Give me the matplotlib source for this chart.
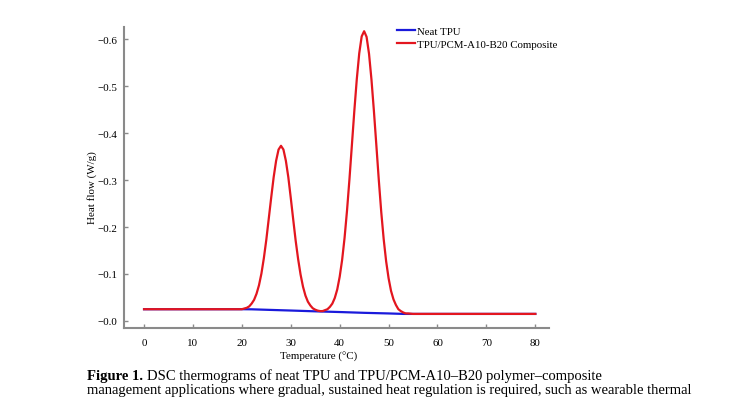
import matplotlib
matplotlib.use("Agg")
import matplotlib.pyplot as plt

plt.rcParams["font.family"] = ["Liberation Serif", "DejaVu Serif"]

# Neat TPU baseline (heat flow, W/g)
neat_temp = [0, 20, 22, 25, 30, 35, 40, 45, 50, 53, 80]
neat_flow = [-0.025, -0.025, -0.0248, -0.0238, -0.0222, -0.0205, -0.019, -0.0173, -0.016, -0.015, -0.015]

# TPU/PCM-A10-B20 composite curve
comp_temp = [0, 20, 21, 21.5, 22, 22.5, 23, 23.5, 24, 24.5, 25, 25.5, 26, 26.5, 27, 27.5,
             28, 28.5, 29, 29.5, 30, 30.5, 31, 31.5, 32, 32.5, 33, 33.5, 34, 34.5, 35,
             35.5, 36, 36.5, 37, 37.5, 38, 38.5, 39, 39.5, 40, 40.5, 41, 41.5, 42, 42.5,
             43, 43.5, 44, 44.5, 45, 45.5, 46, 46.5, 47, 47.5, 48, 48.5, 49, 49.5, 50,
             50.5, 51, 51.5, 52, 52.5, 53, 53.5, 54, 55, 80]
comp_flow = [-0.025, -0.025, -0.028, -0.031, -0.037, -0.045, -0.058, -0.076, -0.101, -0.134,
             -0.173, -0.218, -0.263, -0.306, -0.341, -0.365, -0.373, -0.365, -0.341, -0.306,
             -0.262, -0.216, -0.171, -0.132, -0.099, -0.073, -0.054, -0.041, -0.033, -0.027,
             -0.024, -0.022, -0.021, -0.021, -0.023, -0.025, -0.030, -0.037, -0.049, -0.067,
             -0.094, -0.130, -0.177, -0.235, -0.302, -0.375, -0.448, -0.515, -0.570, -0.606,
             -0.617, -0.605, -0.569, -0.514, -0.447, -0.374, -0.300, -0.232, -0.174, -0.127,
             -0.091, -0.064, -0.046, -0.034, -0.025, -0.021, -0.018, -0.016, -0.016, -0.015,
             -0.015]

x_ticks = [0, 10, 20, 30, 40, 50, 60, 70, 80]
y_ticks = [0.0, -0.1, -0.2, -0.3, -0.4, -0.5, -0.6]
y_tick_labels = ["\u22120.0", "\u22120.1", "\u22120.2", "\u22120.3", "\u22120.4", "\u22120.5", "\u22120.6"]

W, H = 741, 410
fig = plt.figure(figsize=(W / 100, H / 100), dpi=100)
ax = fig.add_axes([124 / W, (H - 329) / H, (549 - 124) / W, (329 - 28) / H])

ax.plot(neat_temp, neat_flow, color="#1a1adb", lw=1.6, label="Neat TPU")
ax.plot(comp_temp, comp_flow, color="#e3161f", lw=1.6, label="TPU/PCM-A10-B20 Composite")

ax.set_xlim(-4.1, 82.8)
ax.set_ylim(0.015, -0.626)

ax.set_xticks(x_ticks)
ax.set_yticks(y_ticks)
ax.set_yticklabels(y_tick_labels)

spine_col = "#8a8a8a"
for side in ["top", "right"]:
    ax.spines[side].set_visible(False)
for side in ["left", "bottom"]:
    ax.spines[side].set_color(spine_col)
    ax.spines[side].set_linewidth(1.5)
ax.tick_params(direction="in", length=3, width=1, color=spine_col, labelsize=7.9)
ax.tick_params(axis="x", pad=7)
ax.tick_params(axis="y", pad=5)

ax.set_xlabel("Temperature (\u00b0C)", fontsize=7.9)
ax.xaxis.set_label_coords((319 - 124) / 425, -0.075)
ax.set_ylabel("Heat flow (W/g)", fontsize=7.9)
ax.yaxis.set_label_coords(-0.064, 0.47)

ax.legend(loc="upper left", bbox_to_anchor=(397 / W, 1 - 27 / H), bbox_transform=fig.transFigure,
          frameon=False, fontsize=7.8, handlelength=1.67, handletextpad=0.2,
          labelspacing=0.35, borderpad=0, borderaxespad=0)

# caption below the chart
bold = fig.text(87 / W, 1 - 380 / H, "Figure 1.", fontsize=10.5, fontweight="bold", va="baseline")
fig.canvas.draw()
bb = bold.get_window_extent(fig.canvas.get_renderer())
fig.text(bb.x1 / W + 4 / W, 1 - 380 / H,
         "DSC thermograms of neat TPU and TPU/PCM-A10\u2013B20 polymer\u2013composite",
         fontsize=10.5, va="baseline")
fig.text(87 / W, 1 - 394 / H,
         "management applications where gradual, sustained heat regulation is required, such as wearable thermal",
         fontsize=10.5, va="baseline")

fig.savefig("out.png", dpi=100)
